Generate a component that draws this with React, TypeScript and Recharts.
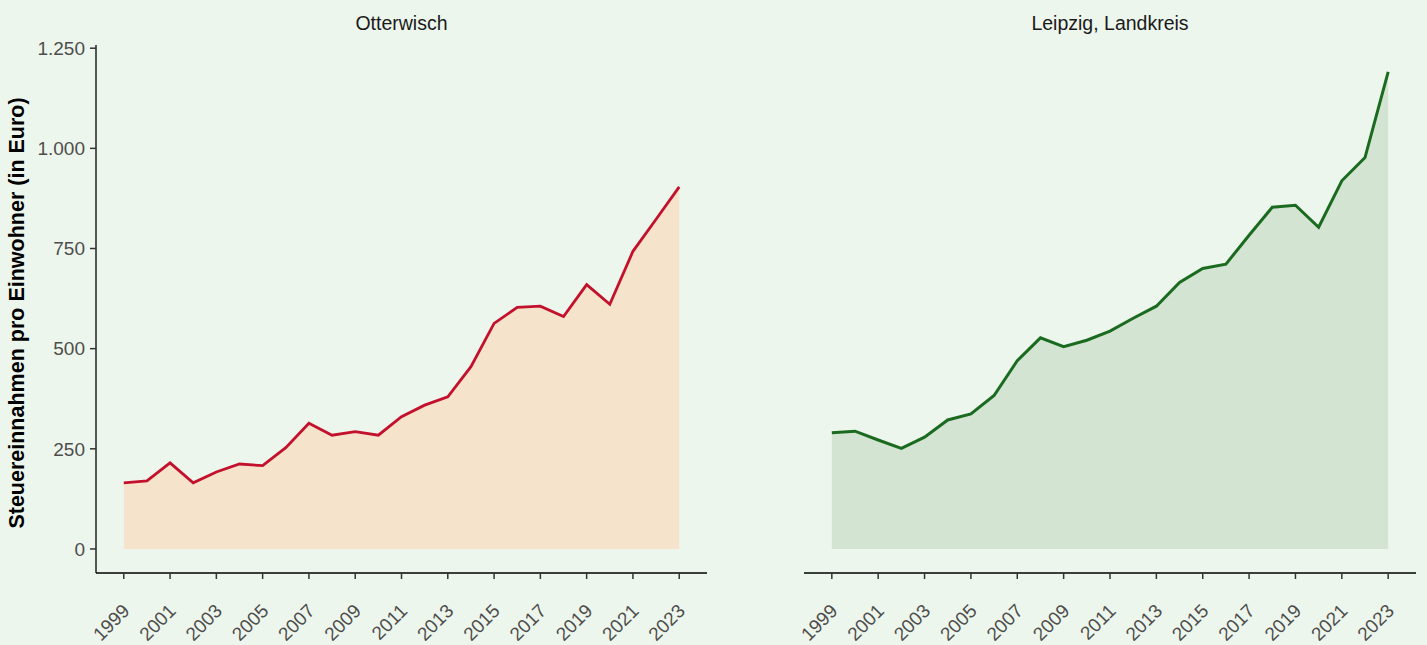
import React from 'react';
import { AreaChart, Area, XAxis, YAxis } from 'recharts';

const years = [1999, 2000, 2001, 2002, 2003, 2004, 2005, 2006, 2007, 2008, 2009, 2010, 2011, 2012, 2013, 2014, 2015, 2016, 2017, 2018, 2019, 2020, 2021, 2022, 2023];
const otterwischValues = [165, 170, 215, 165, 192, 212, 208, 253, 314, 284, 293, 284, 330, 359, 380, 455, 563, 603, 606, 580, 660, 611, 743, 823, 904];
const leipzigValues = [290, 294, 272, 251, 279, 322, 337, 383, 470, 527, 505, 521, 544, 576, 606, 665, 700, 711, 783, 853, 858, 803, 919, 977, 1191];
const yearTicks = [1999, 2001, 2003, 2005, 2007, 2009, 2011, 2013, 2015, 2017, 2019, 2021, 2023];
const valueTicks = [0, 250, 500, 750, 1000, 1250];
const panelTitles = ['Otterwisch', 'Leipzig, Landkreis'];
const yAxisTitle = 'Steuereinnahmen pro Einwohner (in Euro)';

const dataLeft = years.map((year, i) => ({ year, value: otterwischValues[i] }));
const dataRight = years.map((year, i) => ({ year, value: leipzigValues[i] }));

const FONT = '"Liberation Sans", Arial, Helvetica, sans-serif';
const BG = '#EDF6EC';
const TICK_COLOR = '#4D4D4D';
const X_DOMAIN: [number, number] = [1997.8, 2024.2];
const Y_DOMAIN: [number, number] = [-60, 1258];

const fmt = (v: number) => String(v).replace(/\B(?=(\d{3})+(?!\d))/g, '.');

const XTick = (props: any) => {
  const { x, y, payload } = props;
  return (
    <g transform={`translate(${x},${y})`}>
      <text
        x={7}
        y={31}
        textAnchor="end"
        transform="rotate(-45, 7, 31)"
        fill={TICK_COLOR}
        fontSize={19}
        fontFamily={FONT}
      >
        {payload.value}
      </text>
    </g>
  );
};

const YTitle = (props: any) => {
  const { viewBox } = props;
  const cy = viewBox.y + viewBox.height / 2 + 4;
  const cx = 17;
  return (
    <text
      x={cx}
      y={cy}
      transform={`rotate(-90, ${cx}, ${cy})`}
      textAnchor="middle"
      dominantBaseline="central"
      fontSize={21.5}
      fontWeight="bold"
      fontFamily={FONT}
      fill="#000"
    >
      {yAxisTitle}
    </text>
  );
};

const axisLine = { stroke: '#000', strokeWidth: 1.3 };
const tickLine = { stroke: '#333', strokeWidth: 1.5 };

export default function App() {
  return (
    <div style={{ position: 'absolute', left: 0, top: 0, width: 1427, height: 645, background: BG, fontFamily: FONT }}>
      <div style={{ position: 'absolute', left: 0, top: 0 }}>
        <AreaChart width={720} height={645} data={dataLeft} margin={{ top: 45, right: 13, bottom: 0, left: 0 }}>
          <XAxis
            dataKey="year"
            type="number"
            domain={X_DOMAIN}
            ticks={yearTicks}
            allowDataOverflow
            height={72}
            tickSize={6}
            axisLine={axisLine}
            tickLine={tickLine}
            tick={<XTick />}
            interval={0}
          />
          <YAxis
            type="number"
            domain={Y_DOMAIN}
            ticks={valueTicks}
            allowDataOverflow
            width={96}
            tickSize={6}
            tickMargin={5}
            axisLine={axisLine}
            tickLine={tickLine}
            tickFormatter={fmt}
            tick={{ fill: TICK_COLOR, fontSize: 19, fontFamily: FONT }}
            interval={0}
            label={<YTitle />}
          />
          <Area
            dataKey="value"
            type="linear"
            baseValue={0}
            fill="#F5E3CB"
            fillOpacity={1}
            stroke="#C3112D"
            strokeWidth={2.8}
            isAnimationActive={false}
            dot={false}
            activeDot={false}
          />
        </AreaChart>
      </div>
      <div style={{ position: 'absolute', left: 720, top: 0 }}>
        <AreaChart width={707} height={645} data={dataRight} margin={{ top: 45, right: 11, bottom: 0, left: 84 }}>
          <XAxis
            dataKey="year"
            type="number"
            domain={X_DOMAIN}
            ticks={yearTicks}
            allowDataOverflow
            height={72}
            tickSize={6}
            axisLine={axisLine}
            tickLine={tickLine}
            tick={<XTick />}
            interval={0}
          />
          <YAxis type="number" domain={Y_DOMAIN} ticks={valueTicks} allowDataOverflow hide width={0} />
          <Area
            dataKey="value"
            type="linear"
            baseValue={0}
            fill="#D3E5D2"
            fillOpacity={1}
            stroke="#1A6A1F"
            strokeWidth={3}
            isAnimationActive={false}
            dot={false}
            activeDot={false}
          />
        </AreaChart>
      </div>
      <svg style={{ position: 'absolute', left: 0, top: 0, pointerEvents: 'none' }} width={1427} height={60}>
        <text x={401.5} y={30} textAnchor="middle" fontSize={19.5} fontFamily={FONT} fill="#1A1A1A">
          {panelTitles[0]}
        </text>
        <text x={1110} y={30} textAnchor="middle" fontSize={19.5} fontFamily={FONT} fill="#1A1A1A">
          {panelTitles[1]}
        </text>
      </svg>
    </div>
  );
}
